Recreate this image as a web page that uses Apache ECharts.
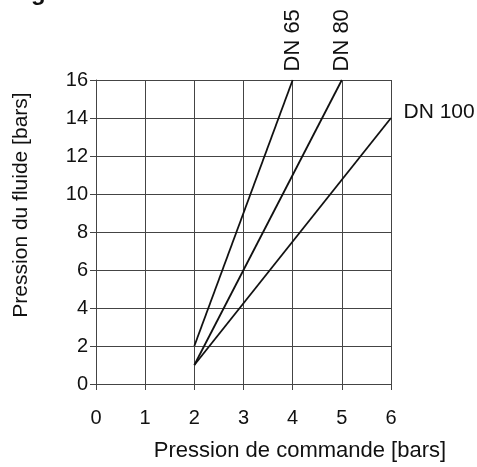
<!DOCTYPE html>
<html>
<head>
<meta charset="utf-8">
<script src="https://cdn.jsdelivr.net/npm/echarts@6/dist/echarts.min.js"></script>
<style>
  html, body { margin: 0; padding: 0; background: #fff; }
  #chart { width: 477px; height: 467px; }
</style>
</head>
<body>
<div id="chart"></div>
<script>
const xTicks = [0, 1, 2, 3, 4, 5, 6]
const yTicks = [0, 2, 4, 6, 8, 10, 12, 14, 16]
const seriesNames = ['DN 65', 'DN 80', 'DN 100']
const dn65 = [[2, 2], [4, 16]]
const dn80 = [[2, 1], [5, 16]]
const dn100 = [[2, 1], [6, 14]]

const FONT = 'Liberation Sans, Arial, sans-serif'
const chart = echarts.init(document.getElementById('chart'))

function lineSeries (name, data, endLabel) {
  return {
    name: name,
    type: 'line',
    data: data.map((p, i) => i === data.length - 1
      ? { value: p, label: Object.assign({ show: true, formatter: name }, endLabel) }
      : p),
    symbol: 'circle',
    showSymbol: true,
    symbolSize: 1,
    itemStyle: { color: 'rgba(0,0,0,0)' },
    lineStyle: { color: '#111', width: 1.8 },
    label: { show: false, color: '#111', fontFamily: FONT, fontSize: 21 },
    animation: false
  }
}

const gridLine = { show: true, lineStyle: { color: '#444', width: 1 } }

const option = {
  backgroundColor: '#fff',
  animation: false,
  grid: { left: 96, right: 86, top: 80, bottom: 80 },
  graphic: [{
    type: 'text',
    left: 31,
    top: -19,
    style: { text: 'g', font: 'bold 24px ' + FONT, fill: '#111' }
  }],
  xAxis: {
    type: 'value',
    min: xTicks[0],
    max: xTicks[xTicks.length - 1],
    interval: 1,
    name: 'Pression de commande [bars]',
    nameLocation: 'middle',
    nameGap: 56,
    nameTextStyle: { color: '#111', fontFamily: FONT, fontSize: 22, padding: [0, 0, 0, 113] },
    axisLine: { show: true, lineStyle: { color: '#444', width: 1 } },
    axisTick: { show: true, length: 6, lineStyle: { color: '#444' } },
    axisLabel: { color: '#111', fontFamily: FONT, fontSize: 20, margin: 24 },
    splitLine: gridLine
  },
  yAxis: {
    type: 'value',
    min: yTicks[0],
    max: yTicks[yTicks.length - 1],
    interval: 2,
    name: 'Pression du fluide [bars]',
    nameLocation: 'middle',
    nameGap: 64,
    nameTextStyle: { color: '#111', fontFamily: FONT, fontSize: 21, padding: [0, 0, 0, 54] },
    axisLine: { show: true, lineStyle: { color: '#444', width: 1 } },
    axisTick: { show: true, length: 6, lineStyle: { color: '#444' } },
    axisLabel: { color: '#111', fontFamily: FONT, fontSize: 20, margin: 8 },
    splitLine: gridLine
  },
  series: [
    lineSeries(seriesNames[0], dn65, { position: 'top', distance: 8, rotate: 90, align: 'left', verticalAlign: 'middle', fontSize: 22 }),
    lineSeries(seriesNames[1], dn80, { position: 'top', distance: 8, rotate: 90, align: 'left', verticalAlign: 'middle', fontSize: 22 }),
    lineSeries(seriesNames[2], dn100, { position: 'right', distance: 12, offset: [0, -6] })
  ]
}

chart.setOption(option)
</script>
</body>
</html>
